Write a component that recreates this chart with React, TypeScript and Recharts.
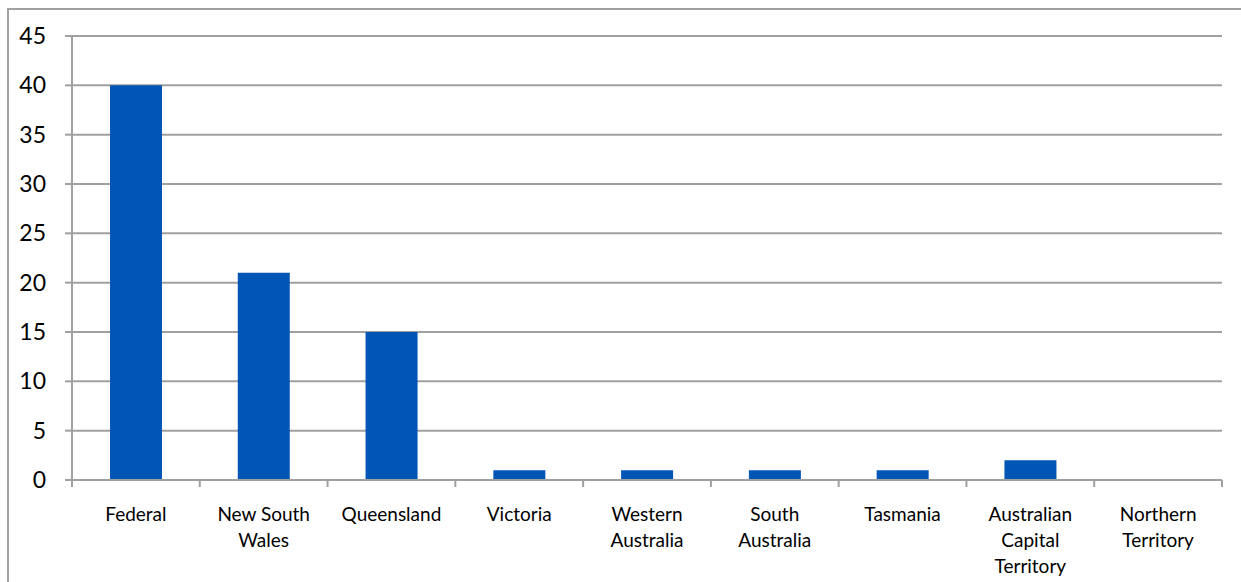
import React from "react";
import { BarChart, Bar, XAxis, YAxis, CartesianGrid } from "recharts";

const categories = [
  "Federal",
  "New South Wales",
  "Queensland",
  "Victoria",
  "Western Australia",
  "South Australia",
  "Tasmania",
  "Australian Capital Territory",
  "Northern Territory",
];
const labelLines: string[][] = [
  ["Federal"],
  ["New South", "Wales"],
  ["Queensland"],
  ["Victoria"],
  ["Western", "Australia"],
  ["South", "Australia"],
  ["Tasmania"],
  ["Australian", "Capital", "Territory"],
  ["Northern", "Territory"],
];
const values = [40, 21, 15, 1, 1, 1, 1, 2, 0];
const yTicks = [0, 5, 10, 15, 20, 25, 30, 35, 40, 45];

const data = categories.map((c, i) => ({ name: c, value: values[i], idx: i }));

const W = 1241;
const H = 582;
const LEFT = 72;
const RIGHT = 19;
const TOP = 36;
const BOTTOM = 102;
const BAND = (W - LEFT - RIGHT) / categories.length;
const GRAY = "#a0a0a0";
const FONT = "Lato, 'Open Sans', sans-serif";

const XTick = (props: any) => {
  const { x, y, payload, index } = props;
  const lines = labelLines[index] || [payload.value];
  const isLast = index === categories.length - 1;
  return (
    <g>
      <line x1={x - BAND / 2} x2={x - BAND / 2} y1={y - 8} y2={y - 1} stroke={GRAY} strokeWidth={2} />
      {isLast && (
        <line x1={x + BAND / 2} x2={x + BAND / 2} y1={y - 8} y2={y - 1} stroke={GRAY} strokeWidth={2} />
      )}
      {lines.map((l, i) => (
        <text
          key={i}
          x={x}
          y={y + 25 + i * 26}
          textAnchor="middle"
          dominantBaseline="central"
          fontSize={19}
          fontFamily={FONT}
          fill="#000"
        >
          {l}
        </text>
      ))}
    </g>
  );
};

export default function App() {
  return (
    <div style={{ position: "absolute", left: 0, top: 0, width: W, height: H, background: "#fff", overflow: "hidden" }}>
      <div
        style={{
          position: "absolute",
          left: 7,
          top: 8,
          width: W + 20,
          height: H + 20,
          border: `2px solid ${GRAY}`,
          boxSizing: "border-box",
        }}
      />
      <div style={{ position: "absolute", left: 0, top: 0 }}>
        <BarChart
          width={W}
          height={H}
          data={data}
          margin={{ top: TOP, right: RIGHT, left: 0, bottom: 0 }}
          barCategoryGap={38}
        >
          <CartesianGrid vertical={false} stroke={GRAY} strokeWidth={2} />
          <YAxis
            type="number"
            domain={[0, 45]}
            ticks={yTicks}
            interval={0}
            width={LEFT}
            axisLine={{ stroke: GRAY, strokeWidth: 2 }}
            tickLine={{ stroke: GRAY, strokeWidth: 2 }}
            tickSize={7}
            tickMargin={19}
            tick={{ fontSize: 23, fill: "#000", fontFamily: FONT }}
          />
          <XAxis
            dataKey="name"
            height={BOTTOM}
            interval={0}
            axisLine={{ stroke: GRAY, strokeWidth: 2 }}
            tickLine={false}
            tick={<XTick />}
          />
          <Bar dataKey="value" fill="#0055b5" isAnimationActive={false} />
        </BarChart>
      </div>
    </div>
  );
}
